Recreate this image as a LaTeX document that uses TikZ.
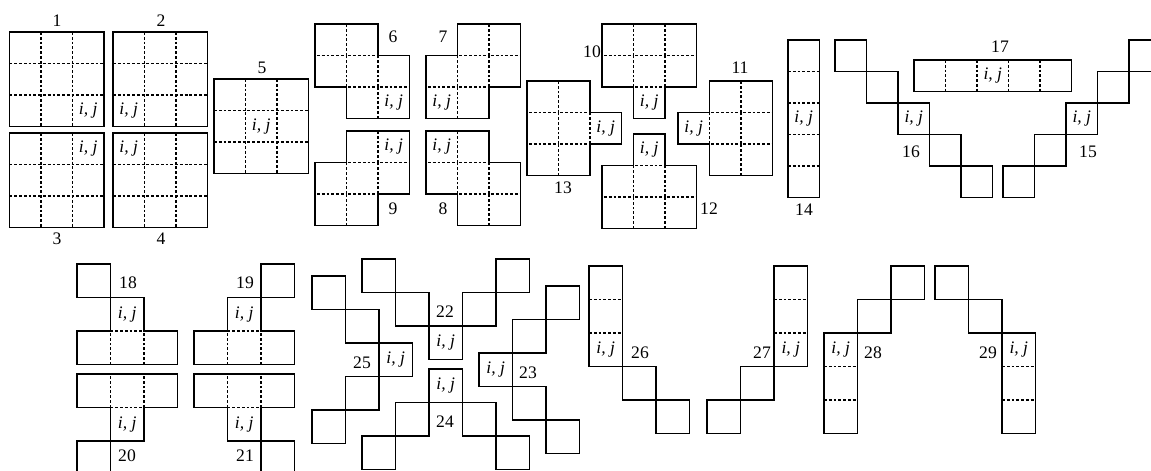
\documentclass[tikz,border=0pt]{standalone}
\usepackage{fontspec}
\setmainfont{Liberation Serif}
\usetikzlibrary{positioning}

\begin{document}
\begin{tikzpicture}[x=0.025cm,y=-0.025cm, every node/.style={font=\fontsize{12.5}{14}\selectfont},
    cellin/.style={line width=0.9pt, dash pattern=on 2pt off 1.4pt},
    cellout/.style={line width=1.1pt},
    ij/.style={font=\fontsize{12.5}{14}\selectfont\itshape},
    topgrid/.style={x=0.7875cm,y=-0.7875cm},
    botgrid/.style={x=0.8375cm,y=-0.8375cm}]
    \useasboundingbox (0,0) rectangle (1151,470);

    % full 3x3 blocks
    \begin{scope}[shift={(9.5,32)},topgrid]
        \foreach \k in {1,2} {\draw[cellin] (\k,0) -- (\k,3); \draw[cellin] (0,\k) -- (3,\k);}
        \draw[cellout] (0,0) rectangle (3,3);
        \node[ij] (ij1) at (2.5,2.5) {i, j};
    \end{scope}
    \begin{scope}[shift={(113,32)},topgrid]
        \foreach \k in {1,2} {\draw[cellin] (\k,0) -- (\k,3); \draw[cellin] (0,\k) -- (3,\k);}
        \draw[cellout] (0,0) rectangle (3,3);
        \node[ij] (ij2) at (0.5,2.5) {i, j};
    \end{scope}
    \begin{scope}[shift={(9.5,133)},topgrid]
        \foreach \k in {1,2} {\draw[cellin] (\k,0) -- (\k,3); \draw[cellin] (0,\k) -- (3,\k);}
        \draw[cellout] (0,0) rectangle (3,3);
        \node[ij] (ij3) at (2.5,0.5) {i, j};
    \end{scope}
    \begin{scope}[shift={(113,133)},topgrid]
        \foreach \k in {1,2} {\draw[cellin] (\k,0) -- (\k,3); \draw[cellin] (0,\k) -- (3,\k);}
        \draw[cellout] (0,0) rectangle (3,3);
        \node[ij] (ij4) at (0.5,0.5) {i, j};
    \end{scope}
    \begin{scope}[shift={(214,79)},topgrid]
        \foreach \k in {1,2} {\draw[cellin] (\k,0) -- (\k,3); \draw[cellin] (0,\k) -- (3,\k);}
        \draw[cellout] (0,0) rectangle (3,3);
        \node[ij] (ij5) at (1.5,1.5) {i, j};
    \end{scope}

    % heptominoes
    \begin{scope}[shift={(315,24)},topgrid]
        \foreach \c/\r in {0/0,1/0,0/1,1/1,2/1,1/2,2/2} \draw[cellin] (\c,\r+1) -- (\c,\r) -- (\c+1,\r);
        \draw[cellout] (0,0) -- (2,0) -- (2,1) -- (3,1) -- (3,3) -- (1,3) -- (1,2) -- (0,2) -- cycle;
        \node[ij] (ij6) at (2.5,2.5) {i, j};
    \end{scope}
    \begin{scope}[shift={(426,24)},topgrid]
        \foreach \c/\r in {1/0,2/0,0/1,1/1,2/1,0/2,1/2} \draw[cellin] (\c,\r+1) -- (\c,\r) -- (\c+1,\r);
        \draw[cellout] (1,0) -- (3,0) -- (3,2) -- (2,2) -- (2,3) -- (0,3) -- (0,1) -- (1,1) -- cycle;
        \node[ij] (ij7) at (0.5,2.5) {i, j};
    \end{scope}
    \begin{scope}[shift={(315,131)},topgrid]
        \foreach \c/\r in {1/0,2/0,0/1,1/1,2/1,0/2,1/2} \draw[cellin] (\c,\r+1) -- (\c,\r) -- (\c+1,\r);
        \draw[cellout] (1,0) -- (3,0) -- (3,2) -- (2,2) -- (2,3) -- (0,3) -- (0,1) -- (1,1) -- cycle;
        \node[ij] (ij9) at (2.5,0.5) {i, j};
    \end{scope}
    \begin{scope}[shift={(426,131)},topgrid]
        \foreach \c/\r in {0/0,1/0,0/1,1/1,2/1,1/2,2/2} \draw[cellin] (\c,\r+1) -- (\c,\r) -- (\c+1,\r);
        \draw[cellout] (0,0) -- (2,0) -- (2,1) -- (3,1) -- (3,3) -- (1,3) -- (1,2) -- (0,2) -- cycle;
        \node[ij] (ij8) at (0.5,0.5) {i, j};
    \end{scope}
    \begin{scope}[shift={(527,81)},topgrid]
        \foreach \c/\r in {0/0,1/0,0/1,1/1,2/1,0/2,1/2} \draw[cellin] (\c,\r+1) -- (\c,\r) -- (\c+1,\r);
        \draw[cellout] (0,0) -- (2,0) -- (2,1) -- (3,1) -- (3,2) -- (2,2) -- (2,3) -- (0,3) -- cycle;
        \node[ij] (ij13) at (2.5,1.5) {i, j};
    \end{scope}
    \begin{scope}[shift={(602,24)},topgrid]
        \foreach \c/\r in {0/0,1/0,2/0,0/1,1/1,2/1,1/2} \draw[cellin] (\c,\r+1) -- (\c,\r) -- (\c+1,\r);
        \draw[cellout] (0,0) -- (3,0) -- (3,2) -- (2,2) -- (2,3) -- (1,3) -- (1,2) -- (0,2) -- cycle;
        \node[ij] (ij10) at (1.5,2.5) {i, j};
    \end{scope}
    \begin{scope}[shift={(602,134)},topgrid]
        \foreach \c/\r in {1/0,0/1,1/1,2/1,0/2,1/2,2/2} \draw[cellin] (\c,\r+1) -- (\c,\r) -- (\c+1,\r);
        \draw[cellout] (1,0) -- (2,0) -- (2,1) -- (3,1) -- (3,3) -- (0,3) -- (0,1) -- (1,1) -- cycle;
        \node[ij] (ij12) at (1.5,0.5) {i, j};
    \end{scope}
    \begin{scope}[shift={(678,81)},topgrid]
        \foreach \c/\r in {1/0,2/0,0/1,1/1,2/1,1/2,2/2} \draw[cellin] (\c,\r+1) -- (\c,\r) -- (\c+1,\r);
        \draw[cellout] (1,0) -- (3,0) -- (3,3) -- (1,3) -- (1,2) -- (0,2) -- (0,1) -- (1,1) -- cycle;
        \node[ij] (ij11) at (0.5,1.5) {i, j};
    \end{scope}

    % straight and diagonal lines of five
    \begin{scope}[shift={(788,40)},topgrid]
        \foreach \r in {1,...,4} \draw[cellin] (0,\r) -- (1,\r);
        \draw[cellout] (0,0) rectangle (1,5);
        \node[ij] (ij14) at (0.5,2.5) {i, j};
    \end{scope}
    \begin{scope}[shift={(914,60)},topgrid]
        \foreach \c in {1,...,4} \draw[cellin] (\c,0) -- (\c,1);
        \draw[cellout] (0,0) rectangle (5,1);
        \node[ij] (ij17) at (2.5,0.5) {i, j};
    \end{scope}
    \begin{scope}[shift={(835,40)},topgrid]
        \foreach \c/\r in {0/0,1/1,2/2,3/3,4/4} \draw[cellout] (\c,\r) rectangle ++(1,1);
        \node[ij] (ij16) at (2.5,2.5) {i, j};
    \end{scope}
    \begin{scope}[shift={(1003,40)},topgrid]
        \foreach \c/\r in {0/4,1/3,2/2,3/1,4/0} \draw[cellout] (\c,\r) rectangle ++(1,1);
        \node[ij] (ij15) at (2.5,2.5) {i, j};
    \end{scope}

    % lower row
    \begin{scope}[shift={(77,264)},botgrid]
        \foreach \c/\r in {1/1,0/2,1/2,2/2} \draw[cellin] (\c,\r+1) -- (\c,\r) -- (\c+1,\r);
        \draw[cellout] (0,0) rectangle (1,1);
        \draw[cellout] (1,1) -- (2,1) -- (2,2) -- (3,2) -- (3,3) -- (0,3) -- (0,2) -- (1,2) -- cycle;
        \node[ij] (ij18) at (1.5,1.5) {i, j};
    \end{scope}
    \begin{scope}[shift={(194,264)},botgrid]
        \foreach \c/\r in {1/1,0/2,1/2,2/2} \draw[cellin] (\c,\r+1) -- (\c,\r) -- (\c+1,\r);
        \draw[cellout] (2,0) rectangle (3,1);
        \draw[cellout] (1,1) -- (2,1) -- (2,2) -- (3,2) -- (3,3) -- (0,3) -- (0,2) -- (1,2) -- cycle;
        \node[ij] (ij19) at (1.5,1.5) {i, j};
    \end{scope}
    \begin{scope}[shift={(77,374)},botgrid]
        \foreach \c/\r in {0/0,1/0,2/0,1/1} \draw[cellin] (\c,\r+1) -- (\c,\r) -- (\c+1,\r);
        \draw[cellout] (0,0) -- (3,0) -- (3,1) -- (2,1) -- (2,2) -- (1,2) -- (1,1) -- (0,1) -- cycle;
        \draw[cellout] (0,2) rectangle (1,3);
        \node[ij] (ij20) at (1.5,1.5) {i, j};
    \end{scope}
    \begin{scope}[shift={(194,374)},botgrid]
        \foreach \c/\r in {0/0,1/0,2/0,1/1} \draw[cellin] (\c,\r+1) -- (\c,\r) -- (\c+1,\r);
        \draw[cellout] (0,0) -- (3,0) -- (3,1) -- (2,1) -- (2,2) -- (1,2) -- (1,1) -- (0,1) -- cycle;
        \draw[cellout] (2,2) rectangle (3,3);
        \node[ij] (ij21) at (1.5,1.5) {i, j};
    \end{scope}
    \begin{scope}[shift={(312,276)},botgrid]
        \foreach \c/\r in {0/0,1/1,2/2,1/3,0/4} \draw[cellout] (\c,\r) rectangle ++(1,1);
        \node[ij] (ij25) at (2.5,2.5) {i, j};
    \end{scope}
    \begin{scope}[shift={(362,259)},botgrid]
        \foreach \c/\r in {0/0,1/1,2/2,3/1,4/0} \draw[cellout] (\c,\r) rectangle ++(1,1);
        \node[ij] (ij22) at (2.5,2.5) {i, j};
    \end{scope}
    \begin{scope}[shift={(362,369)},botgrid]
        \foreach \c/\r in {2/0,1/1,3/1,0/2,4/2} \draw[cellout] (\c,\r) rectangle ++(1,1);
        \node[ij] (ij24) at (2.5,0.5) {i, j};
    \end{scope}
    \begin{scope}[shift={(479,286)},botgrid]
        \foreach \c/\r in {2/0,1/1,0/2,1/3,2/4} \draw[cellout] (\c,\r) rectangle ++(1,1);
        \node[ij] (ij23) at (0.5,2.5) {i, j};
    \end{scope}
    \begin{scope}[shift={(589,266)},botgrid]
        \foreach \r in {1,2} \draw[cellin] (0,\r) -- (1,\r);
        \draw[cellout] (0,0) rectangle (1,3);
        \foreach \c/\r in {1/3,2/4} \draw[cellout] (\c,\r) rectangle ++(1,1);
        \node[ij] (ij26) at (0.5,2.5) {i, j};
    \end{scope}
    \begin{scope}[shift={(707,266)},botgrid]
        \foreach \r in {1,2} \draw[cellin] (2,\r) -- (3,\r);
        \draw[cellout] (2,0) rectangle (3,3);
        \foreach \c/\r in {1/3,0/4} \draw[cellout] (\c,\r) rectangle ++(1,1);
        \node[ij] (ij27) at (2.5,2.5) {i, j};
    \end{scope}
    \begin{scope}[shift={(824,266)},botgrid]
        \foreach \r in {3,4} \draw[cellin] (0,\r) -- (1,\r);
        \draw[cellout] (0,2) rectangle (1,5);
        \foreach \c/\r in {2/0,1/1} \draw[cellout] (\c,\r) rectangle ++(1,1);
        \node[ij] (ij28) at (0.5,2.5) {i, j};
    \end{scope}
    \begin{scope}[shift={(935,266)},botgrid]
        \foreach \r in {3,4} \draw[cellin] (2,\r) -- (3,\r);
        \draw[cellout] (2,2) rectangle (3,5);
        \foreach \c/\r in {0/0,1/1} \draw[cellout] (\c,\r) rectangle ++(1,1);
        \node[ij] (ij29) at (2.5,2.5) {i, j};
    \end{scope}

    % numbers
    \node (n1) at (57,21) {1};
    \node (n2) at (161,21) {2};
    \node (n3) at (57,239) {3};
    \node (n4) at (161,239) {4};
    \node (n5) at (262,68) {5};
    \node (n6) at (393,37) {6};
    \node (n7) at (443,37) {7};
    \node (n8) at (443,209) {8};
    \node (n9) at (393,209) {9};
    \node (n10) at (592,52) {10};
    \node (n11) at (740,68) {11};
    \node (n12) at (709,209) {12};
    \node (n13) at (563,188) {13};
    \node (n14) at (804,210) {14};
    \node (n15) at (1088,152) {15};
    \node (n16) at (911,152) {16};
    \node (n17) at (1000,47) {17};
    \node (n18) at (128,283) {18};
    \node (n19) at (245,283) {19};
    \node (n20) at (127,456) {20};
    \node (n21) at (245,456) {21};
    \node (n22) at (445,312) {22};
    \node (n23) at (528,373) {23};
    \node (n24) at (445,422) {24};
    \node (n25) at (362,363) {25};
    \node (n26) at (640,353) {26};
    \node (n27) at (762,353) {27};
    \node (n28) at (873,353) {28};
    \node (n29) at (988,353) {29};
\end{tikzpicture}
\end{document}
